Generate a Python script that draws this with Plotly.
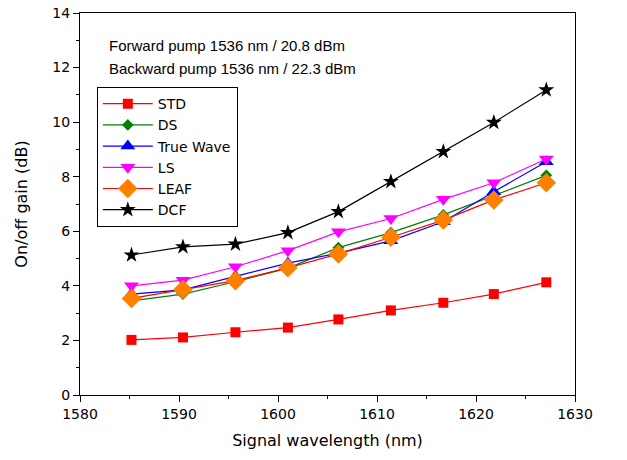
import plotly.graph_objects as go

wavelength = [1585.2, 1590.4, 1595.7, 1601.0, 1606.1, 1611.4, 1616.7, 1621.8, 1627.1]

std = [2.02, 2.11, 2.30, 2.47, 2.77, 3.10, 3.38, 3.70, 4.13]
ds = [3.45, 3.70, 4.15, 4.65, 5.40, 5.95, 6.60, 7.30, 8.05]
truewave = [3.70, 3.85, 4.35, 4.83, 5.20, 5.65, 6.35, 7.45, 8.55]
ls = [4.00, 4.21, 4.70, 5.29, 5.98, 6.47, 7.17, 7.78, 8.65]
leaf = [3.54, 3.87, 4.19, 4.66, 5.17, 5.78, 6.41, 7.15, 7.78]
dcf = [5.13, 5.43, 5.53, 5.95, 6.72, 7.82, 8.92, 9.99, 11.18]

series = [
    ("STD", std, "#FF0000", "square", "#FF0000", 10),
    ("DS", ds, "#008000", "diamond", "#008000", 9),
    ("True Wave", truewave, "#0000FF", "triangle-up", "#0000FF", 13),
    ("LS", ls, "#FF00FF", "triangle-down", "#FF00FF", 13),
    ("LEAF", leaf, "#FF0000", "diamond", "#FF8000", 15),
    ("DCF", dcf, "#000000", "star", "#000000", 12),
]

fig = go.Figure()
for name, vals, lc, sym, mc, ms in series:
    fig.add_trace(go.Scatter(
        x=wavelength, y=vals, name=name, mode="lines+markers",
        line=dict(color=lc, width=1.2),
        marker=dict(symbol=sym, color=mc, size=ms, line=dict(width=0)),
    ))

font = "DejaVu Sans, sans-serif"
fig.update_layout(
    width=627, height=460,
    margin=dict(l=80, r=52, t=13, b=65),
    paper_bgcolor="white", plot_bgcolor="white",
    font=dict(family=font, size=15, color="black"),
    showlegend=True,
    legend=dict(
        x=0.034, y=0.806, xanchor="left", yanchor="top",
        bordercolor="black", borderwidth=1, bgcolor="white",
        font=dict(size=14), itemwidth=50, tracegroupgap=0,
    ),
    xaxis=dict(
        range=[1580, 1630], tick0=1580, dtick=10,
        ticks="outside", ticklen=6, tickcolor="black", automargin=False,
        minor=dict(ticks="outside", ticklen=3, dtick=5, tick0=1580, tickcolor="black"),
        showline=True, linecolor="black", linewidth=1, mirror=True,
        showgrid=False, zeroline=False,
        tickfont=dict(size=14),
        title=dict(text="Signal wavelength (nm)", font=dict(size=16), standoff=14),
    ),
    yaxis=dict(
        range=[0, 14], tick0=0, dtick=2,
        ticks="outside", ticklen=6, tickcolor="black", automargin=False,
        minor=dict(ticks="outside", ticklen=3, dtick=1, tick0=0, tickcolor="black"),
        showline=True, linecolor="black", linewidth=1, mirror=True,
        showgrid=False, zeroline=False,
        tickfont=dict(size=14),
        title=dict(text="On/off gain (dB)", font=dict(size=16), standoff=20),
    ),
    annotations=[
        dict(text="Forward pump 1536 nm / 20.8 dBm", xref="paper", yref="paper",
             x=0.055, y=0.916, xanchor="left", yanchor="middle", showarrow=False,
             font=dict(family="Liberation Sans, Arial, sans-serif", size=15)),
        dict(text="Backward pump 1536 nm / 22.3 dBm", xref="paper", yref="paper",
             x=0.055, y=0.856, xanchor="left", yanchor="middle", showarrow=False,
             font=dict(family="Liberation Sans, Arial, sans-serif", size=15)),
    ],
)

fig.write_html("out.html")
